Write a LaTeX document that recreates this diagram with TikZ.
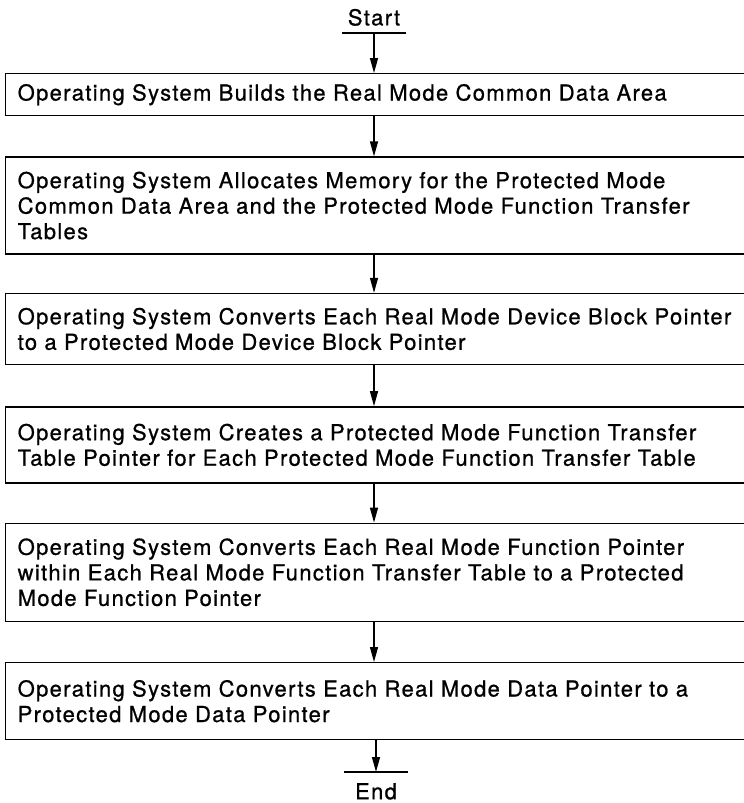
\documentclass[tikz,border=0pt]{standalone}
\usepackage{fontspec}
\setmainfont{TeX Gyre Heros}[LetterSpace=6, FakeBold=0.8]
\usetikzlibrary{arrows.meta,positioning}

\begin{document}
\begin{tikzpicture}[
    x=1pt, y=-1pt,
    font=\fontsize{22}{25.5}\selectfont,
    stepbox/.style={draw, line width=1.4pt, text width=726pt, inner xsep=12pt, inner ysep=0pt, align=left},
    term/.style={minimum width=63pt, inner xsep=0pt, inner ysep=7pt},
    arrow/.style={-{Triangle[length=15pt,width=8pt]}, line width=1.3pt}
]
\useasboundingbox (0,0) rectangle (744,803);

\node[term, anchor=south] (start) at (374,33) {Start};
\draw[line width=1.3pt] (start.south west) -- (start.south east);

\node[stepbox, anchor=north west, minimum height=42pt] (b1) at (5,73) {Operating System Builds the Real Mode Common Data Area};
\node[stepbox, below=40pt of b1, minimum height=97pt] (b2) {Operating System Allocates Memory for the Protected Mode\\ Common Data Area and the Protected Mode Function Transfer\\ Tables};
\node[stepbox, below=38pt of b2, minimum height=71pt] (b3) {Operating System Converts Each Real Mode Device Block Pointer\\ to a Protected Mode Device Block Pointer};
\node[stepbox, below=41pt of b3, minimum height=76pt] (b4) {Operating System Creates a Protected Mode Function Transfer\\ Table Pointer for Each Protected Mode Function Transfer Table};
\node[stepbox, below=39pt of b4, minimum height=98pt] (b5) {Operating System Converts Each Real Mode Function Pointer\\ within Each Real Mode Function Transfer Table to a Protected\\ Mode Function Pointer};
\node[stepbox, below=40pt of b5, minimum height=77pt] (b6) {Operating System Converts Each Real Mode Data Pointer to a\\ Protected Mode Data Pointer};

\node[term, anchor=north, inner ysep=11pt] (end) at (376,772) {End};
\draw[line width=1.3pt] (end.north west) -- (end.north east);

\draw[arrow] (start.south) -- (b1.north -| start);
\draw[arrow] (b1.south -| start) -- (b2.north -| start);
\draw[arrow] (b2.south -| start) -- (b3.north -| start);
\draw[arrow] (b3.south -| start) -- (b4.north -| start);
\draw[arrow] (b4.south -| start) -- (b5.north -| start);
\draw[arrow] (b5.south -| start) -- (b6.north -| start);
\draw[arrow] (b6.south -| end) -- (end.north);
\end{tikzpicture}
\end{document}
